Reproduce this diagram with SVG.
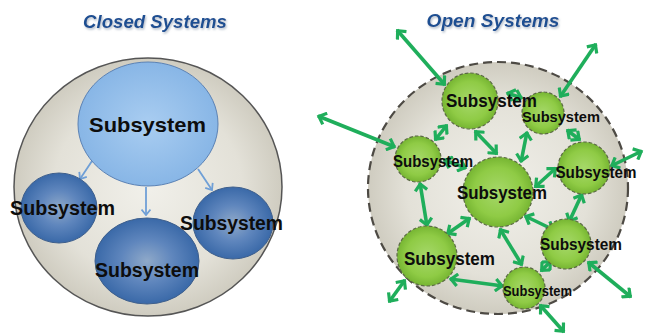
<svg xmlns="http://www.w3.org/2000/svg" width="645" height="336" viewBox="0 0 645 336">
<defs>
<radialGradient id="bg" cx="50%" cy="50%" r="50%">
<stop offset="0" stop-color="#f1f0ea"/><stop offset="0.7" stop-color="#e3e1d8"/><stop offset="1" stop-color="#cfccc0"/>
</radialGradient>
<radialGradient id="lb" cx="50%" cy="50%" r="50%">
<stop offset="0" stop-color="#a9cdf1"/><stop offset="1" stop-color="#88b6e6"/>
</radialGradient>
<radialGradient id="db" cx="50%" cy="50%" r="50%">
<stop offset="0" stop-color="#8fa9c9"/><stop offset="0.5" stop-color="#5f86bd"/><stop offset="1" stop-color="#3a69a8"/>
</radialGradient>
<radialGradient id="gr" cx="50%" cy="50%" r="50%">
<stop offset="0" stop-color="#a6d86a"/><stop offset="0.7" stop-color="#8fcb45"/><stop offset="1" stop-color="#76b532"/>
</radialGradient>
<marker id="ga" viewBox="-10 -7 12 14" markerWidth="12" markerHeight="14" markerUnits="userSpaceOnUse" orient="auto-start-reverse" refX="0" refY="0">
<path d="M-7.5,-6 L-1,0 L-7.5,6" fill="none" stroke="#1fae5b" stroke-width="3.2"/>
</marker>
<marker id="ba" viewBox="-8 -5 9 10" markerWidth="9" markerHeight="10" markerUnits="userSpaceOnUse" orient="auto" refX="0" refY="0">
<path d="M-5.5,-4.5 L0,0 L-5.5,4.5" fill="none" stroke="#6f9fd6" stroke-width="1.8"/>
</marker>
<filter id="sh" x="-10%" y="-30%" width="120%" height="160%">
<feDropShadow dx="1" dy="1.5" stdDeviation="1" flood-color="#9aa8b8" flood-opacity="0.8"/>
</filter>
</defs>
<style>
.title{font-family:"Liberation Sans",Arial,sans-serif;font-weight:bold;font-style:italic;font-size:19px;fill:#1f4f92;text-anchor:middle}
.lbl{font-family:"Liberation Sans",Arial,sans-serif;font-weight:bold;fill:#0d0d0d;text-anchor:middle}
.cont{fill:url(#bg);stroke:#555;stroke-width:1.5}
.ocont{fill:url(#bg);stroke:#4d4a44;stroke-width:2.2;stroke-dasharray:9 5}
.dsub{fill:url(#db);stroke:#3e5f8c;stroke-width:1}
.gsub{fill:url(#gr);stroke:#5b6a44;stroke-width:1.2;stroke-dasharray:3.5 2}
.ga{fill:none;stroke:#1fae5b;stroke-width:3.6;marker-start:url(#ga);marker-end:url(#ga)}
.ba{fill:none;stroke:#6f9fd6;stroke-width:1.8;marker-end:url(#ba)}
</style>

<text class="title" x="155" y="28" textLength="144" lengthAdjust="spacingAndGlyphs" filter="url(#sh)">Closed Systems</text>
<text class="title" x="493" y="27" textLength="133" lengthAdjust="spacingAndGlyphs" filter="url(#sh)">Open Systems</text>

<g id="closed-system">
<ellipse class="cont" cx="148" cy="187" rx="134" ry="129"/>
</g>
<g id="open-system">
<ellipse class="ocont" cx="498" cy="188" rx="130" ry="126"/>
</g>

<g id="connectors">
<line class="ba" x1="92" y1="161" x2="80" y2="179"/>
<line class="ba" x1="146" y1="187" x2="146" y2="215"/>
<line class="ba" x1="198" y1="169" x2="212" y2="190"/>

<line class="ga" x1="318" y1="116" x2="395" y2="147"/>
<line class="ga" x1="397" y1="30" x2="445" y2="85"/>
<line class="ga" x1="596" y1="44" x2="560" y2="97"/>
<line class="ga" x1="611" y1="166" x2="642" y2="151"/>
<line class="ga" x1="405" y1="280" x2="389" y2="302"/>
<line class="ga" x1="540" y1="305" x2="564" y2="332"/>
<line class="ga" x1="588" y1="262" x2="631" y2="297"/>

<line class="ga" x1="447" y1="125" x2="435" y2="140"/>
<line class="ga" x1="475" y1="131" x2="497" y2="154"/>
<line class="ga" x1="507" y1="93" x2="522" y2="98"/>
<line class="ga" x1="527" y1="132" x2="521" y2="162"/>
<line class="ga" x1="567" y1="130" x2="580" y2="140"/>
<line class="ga" x1="444" y1="160" x2="466" y2="168"/>
<line class="ga" x1="535" y1="187" x2="556" y2="168"/>
<line class="ga" x1="420" y1="183" x2="427" y2="226"/>
<line class="ga" x1="470" y1="218" x2="447" y2="234"/>
<line class="ga" x1="525" y1="216" x2="554" y2="230"/>
<line class="ga" x1="582" y1="194" x2="569" y2="222"/>
<line class="ga" x1="500" y1="229" x2="522" y2="265"/>
<line class="ga" x1="450" y1="279" x2="503" y2="286"/>
<line class="ga" x1="541" y1="271" x2="551" y2="261"/>
</g>

<g id="closed-top">
<ellipse cx="148" cy="124" rx="70" ry="62" fill="url(#lb)" stroke="#5b82b5" stroke-width="1"/>
<text class="lbl" x="147.5" y="132" font-size="21" textLength="117" lengthAdjust="spacingAndGlyphs">Subsystem</text>
</g>
<g id="closed-left">
<ellipse class="dsub" cx="59" cy="208" rx="38" ry="35"/>
<text class="lbl" x="62.5" y="215" font-size="20" textLength="105" lengthAdjust="spacingAndGlyphs">Subsystem</text>
</g>
<g id="closed-bottom">
<ellipse class="dsub" cx="147" cy="261" rx="52" ry="43"/>
<text class="lbl" x="147" y="277" font-size="20" textLength="104" lengthAdjust="spacingAndGlyphs">Subsystem</text>
</g>
<g id="closed-right">
<ellipse class="dsub" cx="233" cy="223" rx="40" ry="36"/>
<text class="lbl" x="231.5" y="230" font-size="20" textLength="103" lengthAdjust="spacingAndGlyphs">Subsystem</text>
</g>

<g id="open-2">
<circle class="gsub" cx="543" cy="113" r="21"/>
<text class="lbl" x="561" y="122" font-size="15.5" textLength="78" lengthAdjust="spacingAndGlyphs">Subsystem</text>
</g>
<g id="open-1">
<circle class="gsub" cx="470" cy="101" r="28"/>
<text class="lbl" x="491.5" y="107" font-size="18.5" textLength="91" lengthAdjust="spacingAndGlyphs">Subsystem</text>
</g>
<g id="open-4">
<circle class="gsub" cx="498" cy="192" r="35"/>
<text class="lbl" x="502" y="199" font-size="18.5" textLength="90" lengthAdjust="spacingAndGlyphs">Subsystem</text>
</g>
<g id="open-3">
<circle class="gsub" cx="418" cy="159" r="23"/>
<text class="lbl" x="433" y="167" font-size="16" textLength="80" lengthAdjust="spacingAndGlyphs">Subsystem</text>
</g>
<g id="open-5">
<circle class="gsub" cx="584" cy="168" r="26"/>
<text class="lbl" x="596" y="178" font-size="16.5" textLength="81" lengthAdjust="spacingAndGlyphs">Subsystem</text>
</g>
<g id="open-6">
<circle class="gsub" cx="427" cy="256" r="30"/>
<text class="lbl" x="449.5" y="265" font-size="18.5" textLength="91" lengthAdjust="spacingAndGlyphs">Subsystem</text>
</g>
<g id="open-7">
<circle class="gsub" cx="566" cy="244" r="25"/>
<text class="lbl" x="581" y="250" font-size="16.5" textLength="82" lengthAdjust="spacingAndGlyphs">Subsystem</text>
</g>
<g id="open-8">
<circle class="gsub" cx="524" cy="288" r="21"/>
<text class="lbl" x="537.5" y="296" font-size="14.5" textLength="69" lengthAdjust="spacingAndGlyphs">Subsystem</text>
</g>
</svg>
